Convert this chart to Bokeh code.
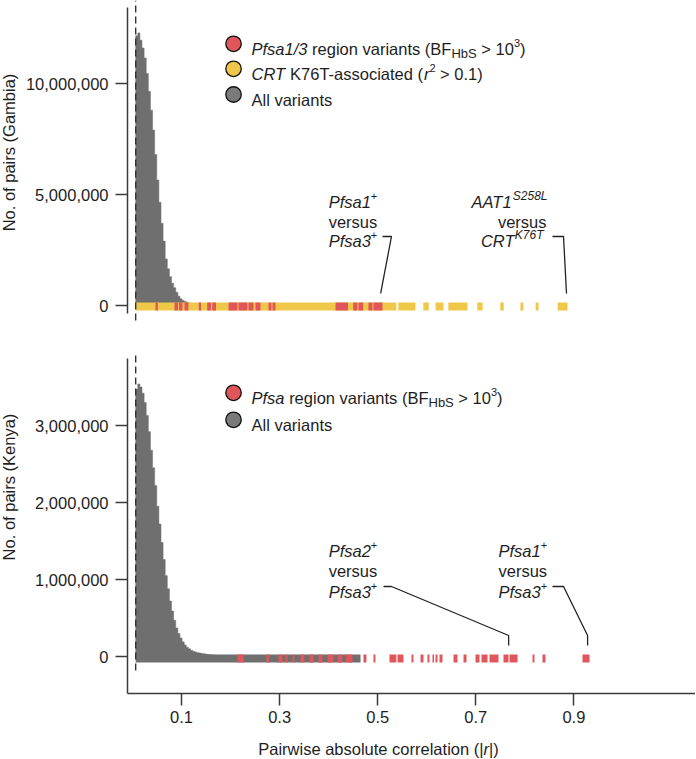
import math
from bokeh.plotting import figure
from bokeh.layouts import column, row
from bokeh.models import Range1d, FixedTicker, NumeralTickFormatter, PrintfTickFormatter, Label
from bokeh.embed import file_html
from bokeh.resources import INLINE

# ---------------- data ----------------
BIN_START = 0.0065
BIN_WIDTH = 0.0043
THRESHOLD_R = 0.0065

gambia_counts = [12.15e6, 12.28e6, 11.95e6, 11.6e6, 11.15e6, 10.45e6, 9.65e6, 8.8e6,
                 7.9e6, 6.8e6, 5.65e6, 4.65e6, 3.7e6, 2.9e6, 2.1e6, 1.65e6, 1.3e6,
                 1.0e6, 0.8e6, 0.6e6, 0.42e6, 0.3e6, 0.23e6, 0.18e6, 0.14e6, 0.11e6,
                 0.085e6, 0.065e6, 0.05e6, 0.038e6, 0.028e6, 0.02e6, 0.014e6, 0.01e6]
kenya_counts = [3.47e6, 3.54e6, 3.5e6, 3.42e6, 3.3e6, 3.13e6, 2.92e6, 2.68e6, 2.45e6,
                2.22e6, 1.95e6, 1.72e6, 1.48e6, 1.26e6, 1.05e6, 0.88e6, 0.72e6, 0.59e6,
                0.47e6, 0.37e6, 0.3e6, 0.24e6, 0.19e6, 0.15e6, 0.12e6, 0.1e6, 0.08e6,
                0.067e6, 0.058e6, 0.05e6, 0.045e6, 0.04e6, 0.035e6, 0.03e6, 0.027e6,
                0.024e6, 0.021e6, 0.018e6, 0.015e6, 0.012e6]

# Gambia: CRT K76T-associated pairs (r ranges)
gambia_crt_lo = [0.0065, 0.542, 0.593, 0.618, 0.644, 0.703, 0.750, 0.791, 0.822, 0.867]
gambia_crt_hi = [0.538, 0.577, 0.604, 0.634, 0.683, 0.714, 0.757, 0.797, 0.828, 0.887]
# Gambia: Pfsa1/3 region pairs
gambia_pfsa_lo = [0.0469, 0.0856, 0.0948, 0.106, 0.1352, 0.1523, 0.1625, 0.1958, 0.2162,
                  0.2365, 0.2508, 0.2773, 0.2855, 0.414, 0.450, 0.4608, 0.4812, 0.4914]
gambia_pfsa_hi = [0.0516, 0.0928, 0.102, 0.114, 0.1397, 0.160, 0.1703, 0.2141, 0.2345,
                  0.2467, 0.261, 0.2834, 0.2916, 0.4395, 0.4588, 0.4704, 0.4894, 0.5098]
# Kenya: all variant pairs and Pfsa region pairs
kenya_all_lo = [0.0065]
kenya_all_hi = [0.465]
kenya_pfsa_lo = [0.2141, 0.2732, 0.2977, 0.312, 0.326, 0.3426, 0.361, 0.3793, 0.3976,
                 0.418, 0.4344, 0.471, 0.4914, 0.524, 0.5404, 0.5689, 0.5873, 0.6015,
                 0.6117, 0.6179, 0.626, 0.6546, 0.675, 0.6994, 0.7117, 0.728, 0.7565,
                 0.7688, 0.8157, 0.836, 0.9176]
kenya_pfsa_hi = [0.2263, 0.2783, 0.3059, 0.316, 0.330, 0.3507, 0.369, 0.3874, 0.4099,
                 0.428, 0.4486, 0.477, 0.4955, 0.538, 0.5526, 0.573, 0.5934, 0.6056,
                 0.6148, 0.622, 0.6321, 0.6627, 0.6811, 0.7076, 0.7239, 0.7463, 0.7667,
                 0.7851, 0.8197, 0.8422, 0.9319]

# highlighted pairs
gambia_pfsa1_pfsa3_r = 0.506
gambia_aat1_crt_r = 0.885
kenya_pfsa2_pfsa3_r = 0.767
kenya_pfsa1_pfsa3_r = 0.928

x_ticks = [0.1, 0.3, 0.5, 0.7, 0.9]
gambia_y_ticks = [0, 5_000_000, 10_000_000]
kenya_y_ticks = [0, 1_000_000, 2_000_000, 3_000_000]

# ---------------- style / layout ----------------
FONT = "Liberation Sans"
FS = 16.5
TXT = "#1e1e1e"
AX = "#3a3a3a"
RED = "#E0565B"
YEL = "#EFC84A"
GRAY = "#6F6F6F"
LEG_GRAY = "#7a7a7a"

W = 695
LW = 22            # width of the y-label strip
H1 = 338
H2 = 392
H3 = 28
LEFT = 127         # frame left (absolute)
P2_BOTTOM = 37

PX_PER_R = 490.4
X0_PX = 5.0
x_start = -X0_PX / PX_PER_R
x_end = x_start + (W - LEFT) / PX_PER_R

G_UPP = 5e6 / 111.0
y1_start = -33 * G_UPP
y1_end = (H1 - 33) * G_UPP

K_UPP = 1e6 / 77.0
F2 = H2 - P2_BOTTOM
y2_start = -37 * K_UPP
y2_end = (F2 - 37) * K_UPP

AW = {' ': 278, '(': 333, ')': 333, '+': 584, ',': 278, '-': 333, '.': 278, '/': 278,
      '>': 584, '|': 260, 'A': 667, 'B': 667, 'C': 722, 'F': 611, 'H': 722, 'K': 667,
      'L': 556, 'P': 667, 'R': 722, 'S': 667, 'T': 611, 'a': 556, 'b': 556, 'c': 500,
      'd': 556, 'e': 556, 'f': 278, 'g': 556, 'i': 222, 'l': 222, 'n': 556, 'o': 556,
      'r': 333, 's': 500, 't': 278, 'u': 556, 'v': 500, 'w': 722, 'y': 500, 'k': 500,
      'N': 722, 'G': 778, 'p': 556, 'm': 833, 'h': 556}


def tw(s, size):
    return sum(AW.get(c, 556) for c in s) * size / 1000.0


def runs(p, x, y, parts, upp, align="left"):
    total = sum(tw(t, sz) for t, it, sz, dy in parts)
    off = 0.0 if align == "left" else (-total if align == "right" else -total / 2.0)
    for t, it, sz, dy in parts:
        lead = len(t) - len(t.lstrip(" "))
        off += tw(" " * lead, sz)
        s = t.lstrip(" ")
        if s:
            p.add_layout(Label(x=x, y=y + dy * upp, x_offset=off, text=s,
                               text_font=FONT, text_font_size=f"{sz}px",
                               text_font_style="italic" if it else "normal",
                               text_color=TXT, text_align="left",
                               text_baseline="alphabetic"))
        off += tw(s, sz)
    return total


def bare(p):
    p.outline_line_color = None
    p.xgrid.visible = False
    p.ygrid.visible = False
    p.background_fill_color = "white"
    p.border_fill_color = "white"


def make_fig(h, y0, y1, bottom_border, with_x):
    p = figure(width=W - LW, height=h, output_backend="svg", toolbar_location=None,
               x_range=Range1d(x_start, x_end), y_range=Range1d(y0, y1),
               x_axis_location="below" if with_x else None,
               min_border_left=LEFT - LW, min_border_right=0, min_border_top=0,
               min_border_bottom=bottom_border)
    bare(p)
    for ax in p.axis:
        ax.axis_line_color = AX
        ax.axis_line_width = 1.5
        ax.major_tick_line_color = AX
        ax.major_tick_line_width = 1.5
        ax.major_tick_in = 0
        ax.minor_tick_line_color = None
        ax.major_label_text_font = FONT
        ax.major_label_text_font_size = f"{FS}px"
        ax.major_label_text_color = TXT
    return p


def label_strip(h, text, center_from_top):
    s = figure(width=LW, height=h, output_backend="svg", toolbar_location=None,
               x_range=Range1d(0, LW), y_range=Range1d(0, h),
               x_axis_location=None, y_axis_location=None,
               min_border_left=0, min_border_right=0, min_border_top=0, min_border_bottom=0)
    bare(s)
    s.add_layout(Label(x=8, y=h - center_from_top, text=text, angle=math.pi / 2,
                       text_font=FONT, text_font_size=f"{FS}px", text_color=TXT,
                       text_align="center", text_baseline="middle"))
    return s


def hist(p, counts):
    # step outline of the histogram bins, filled as one shape (no seams)
    xs = [BIN_START]
    ys = [0.0]
    for i, c in enumerate(counts):
        left = BIN_START + i * BIN_WIDTH
        xs += [left, left + BIN_WIDTH]
        ys += [c, c]
    xs.append(BIN_START + len(counts) * BIN_WIDTH)
    ys.append(0.0)
    p.patch(x=xs, y=ys, fill_color=GRAY, line_color=GRAY, line_width=0.5)


def rug(p, lo, hi, color, b, t):
    p.quad(left=lo, right=hi, bottom=b, top=t, fill_color=color, line_color=None)


LEG_X = 0.206
LEG_DX = 18 / PX_PER_R
SUP = 11
SUB = 13


def legend(p, x, y, color, parts, upp):
    p.scatter(x=[x], y=[y], size=15.5, fill_color=color, line_color="#111111", line_width=1.3)
    runs(p, x + LEG_DX, y - 5.5 * upp, parts, upp)


# ---------------- top panel (Gambia) ----------------
p1 = make_fig(H1, y1_start, y1_end, 0, False)
hist(p1, gambia_counts)
rug(p1, gambia_crt_lo, gambia_crt_hi, YEL, -5 * G_UPP, 3 * G_UPP)
rug(p1, gambia_pfsa_lo, gambia_pfsa_hi, RED, -5 * G_UPP, 3 * G_UPP)
p1.segment(x0=[THRESHOLD_R], y0=[-15 * G_UPP], x1=[THRESHOLD_R], y1=[y1_end],
           line_color="#333333", line_width=1.4, line_dash="7 4")
p1.yaxis.ticker = FixedTicker(ticks=gambia_y_ticks)
p1.yaxis.formatter = NumeralTickFormatter(format="0,0")
p1.yaxis.major_tick_out = 12
p1.yaxis.major_label_standoff = 7
p1.yaxis.bounds = (-8 * G_UPP, 298 * G_UPP)

legend(p1, LEG_X, 11.788e6, RED,
       [("Pfsa1/3", True, FS, 0), (" region variants (BF", False, FS, 0),
        ("HbS", False, SUB, -4), (" > 10", False, FS, 0), ("3", False, SUP, 6),
        (")", False, FS, 0)], G_UPP)
legend(p1, LEG_X, 10.662e6, YEL,
       [("CRT", True, FS, 0), (" K76T-associated (", False, FS, 0), ("r", True, FS, 0),
        ("2", False, SUP, 6), (" > 0.1)", False, FS, 0)], G_UPP)
legend(p1, LEG_X, 9.505e6, LEG_GRAY, [("All variants", False, FS, 0)], G_UPP)

# annotations top
A1X = 0.40
runs(p1, A1X, 4.653e6, [("Pfsa1", True, FS, 0), ("+", False, SUP, 6)], G_UPP)
runs(p1, A1X, 3.761e6, [("versus", False, FS, 0)], G_UPP)
runs(p1, A1X, 2.883e6, [("Pfsa3", True, FS, 0), ("+", False, SUP, 6)], G_UPP)
p1.line(x=[0.5098, 0.5281, gambia_pfsa1_pfsa3_r], y=[3.108e6, 3.108e6, 0.541e6],
        line_color="#222222", line_width=1.3)

A2X = 0.8463
runs(p1, A2X, 4.653e6, [("AAT1", True, FS, 0), ("S258L", True, 12, 6)], G_UPP, align="right")
runs(p1, A2X - 1 / PX_PER_R, 3.761e6, [("versus", False, FS, 0)], G_UPP, align="right")
runs(p1, A2X - 4 / PX_PER_R, 2.883e6, [("CRT", True, FS, 0), ("K76T", True, 12, 6)], G_UPP, align="right")
p1.line(x=[0.8564, 0.8789, gambia_aat1_crt_r], y=[3.108e6, 3.108e6, 0.541e6],
        line_color="#222222", line_width=1.3)

l1 = label_strip(H1, "No. of pairs (Gambia)", 152)

# ---------------- bottom panel (Kenya) ----------------
p2 = make_fig(H2, y2_start, y2_end, P2_BOTTOM, True)
hist(p2, kenya_counts)
rug(p2, kenya_all_lo, kenya_all_hi, GRAY, -6 * K_UPP, 2 * K_UPP)
rug(p2, kenya_pfsa_lo, kenya_pfsa_hi, RED, -6 * K_UPP, 2 * K_UPP)
p2.segment(x0=[THRESHOLD_R], y0=[-14 * K_UPP], x1=[THRESHOLD_R], y1=[304 * K_UPP],
           line_color="#333333", line_width=1.4, line_dash="7 4")
p2.yaxis.ticker = FixedTicker(ticks=kenya_y_ticks)
p2.yaxis.formatter = NumeralTickFormatter(format="0,0")
p2.yaxis.major_tick_out = 12
p2.yaxis.major_label_standoff = 7
p2.yaxis.bounds = (y2_start, 298 * K_UPP)
p2.xaxis.ticker = FixedTicker(ticks=x_ticks)
p2.xaxis.formatter = PrintfTickFormatter(format="%.1f")
p2.xaxis.major_tick_out = 12
p2.xaxis.major_label_standoff = 5

legend(p2, LEG_X, 3.4247e6, RED,
       [("Pfsa", True, FS, 0), (" region variants (BF", False, FS, 0),
        ("HbS", False, SUB, -4), (" > 10", False, FS, 0), ("3", False, SUP, 6),
        (")", False, FS, 0)], K_UPP)
legend(p2, LEG_X, 3.074e6, LEG_GRAY, [("All variants", False, FS, 0)], K_UPP)

B1X = 0.40
runs(p2, B1X, 1.370e6, [("Pfsa2", True, FS, 0), ("+", False, SUP, 6)], K_UPP)
runs(p2, B1X, 1.104e6, [("versus", False, FS, 0)], K_UPP)
runs(p2, B1X, 0.840e6, [("Pfsa3", True, FS, 0), ("+", False, SUP, 6)], K_UPP)
p2.line(x=[0.5118, 0.5281, kenya_pfsa2_pfsa3_r, kenya_pfsa2_pfsa3_r],
        y=[0.909e6, 0.909e6, 0.2727e6, 0.1429e6], line_color="#222222", line_width=1.3)

B2X = 0.7463
runs(p2, B2X, 1.370e6, [("Pfsa1", True, FS, 0), ("+", False, SUP, 6)], K_UPP)
runs(p2, B2X, 1.104e6, [("versus", False, FS, 0)], K_UPP)
runs(p2, B2X, 0.840e6, [("Pfsa3", True, FS, 0), ("+", False, SUP, 6)], K_UPP)
p2.line(x=[0.8564, 0.8789, kenya_pfsa1_pfsa3_r, kenya_pfsa1_pfsa3_r],
        y=[0.909e6, 0.909e6, 0.2727e6, 0.1429e6], line_color="#222222", line_width=1.3)

l2 = label_strip(H2, "No. of pairs (Kenya)", 502 - H1)

# ---------------- x-axis title strip ----------------
p3 = figure(width=W, height=H3, output_backend="svg", toolbar_location=None,
            x_range=p2.x_range, y_range=Range1d(0, H3),
            x_axis_location=None, y_axis_location=None,
            min_border_left=LEFT, min_border_right=0, min_border_top=0, min_border_bottom=0)
bare(p3)
runs(p3, 0.5016, 10,
     [("Pairwise absolute correlation (|", False, FS, 0), ("r", True, FS, 0), ("|)", False, FS, 0)],
     1.0, align="center")

layout = column(row(l1, p1, spacing=0), row(l2, p2, spacing=0), p3, spacing=0)
open("out.html", "w").write(file_html(layout, INLINE))
